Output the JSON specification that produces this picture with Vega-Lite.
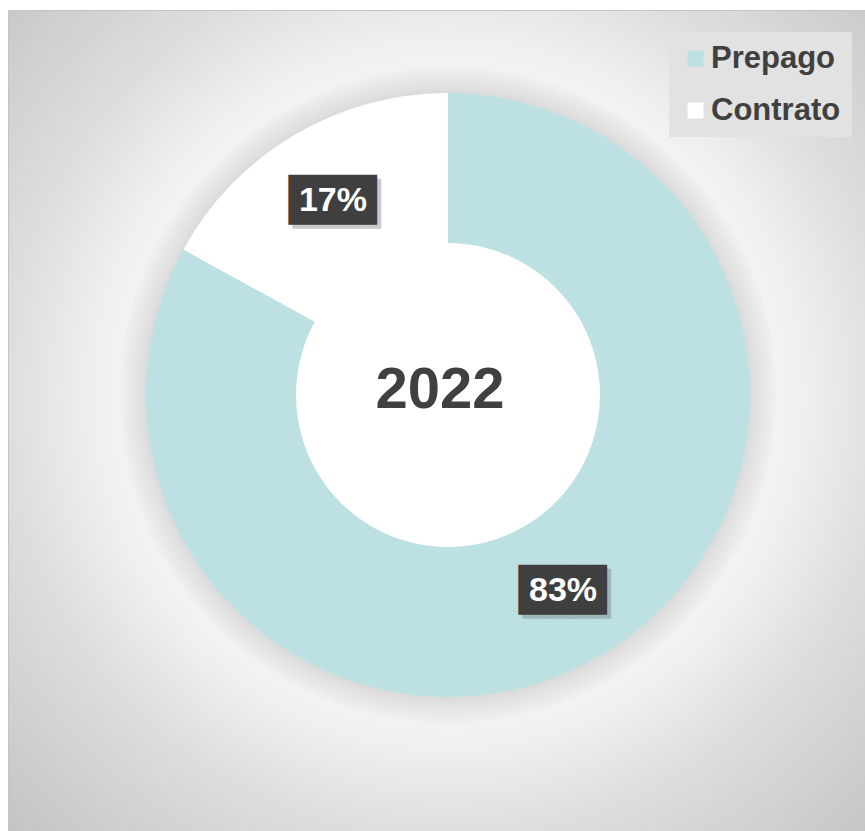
{
  "$schema": "https://vega.github.io/schema/vega-lite/v6.json",
  "width": 865,
  "height": 831,
  "autosize": {"type": "fit", "contains": "padding"},
  "padding": {"left": 8, "top": 10, "right": 0, "bottom": 0},
  "background": "#ffffff",
  "view": {
    "stroke": "#c4c4c4",
    "strokeWidth": 1,
    "fill": {
      "gradient": "radial",
      "x1": 0.513, "y1": 0.469, "r1": 0,
      "x2": 0.513, "y2": 0.469, "r2": 0.72,
      "stops": [
        {"offset": 0, "color": "#ffffff"},
        {"offset": 0.38, "color": "#ffffff"},
        {"offset": 0.48, "color": "#f6f6f6"},
        {"offset": 0.57, "color": "#f0f0f0"},
        {"offset": 0.72, "color": "#dddddd"},
        {"offset": 1, "color": "#c4c4c4"}
      ]
    }
  },
  "datasets": {
    "cuota": [
      {"categoria": "Prepago", "valor": 0.83, "orden": 1},
      {"categoria": "Contrato", "valor": 0.17, "orden": 2}
    ],
    "centro": [{"anio": "2022"}]
  },
  "data": {"name": "cuota"},
  "layer": [
    {
      "data": {"name": "centro"},
      "mark": {"type": "arc", "theta": 0, "theta2": 6.2832, "innerRadius": 298, "outerRadius": 328, "fill": "#999999", "fillOpacity": 0.045},
      "encoding": {"x": {"value": 440}, "y": {"value": 385}}
    },
    {
      "data": {"name": "centro"},
      "mark": {"type": "arc", "theta": 0, "theta2": 6.2832, "innerRadius": 298, "outerRadius": 324, "fill": "#999999", "fillOpacity": 0.045},
      "encoding": {"x": {"value": 440}, "y": {"value": 385}}
    },
    {
      "data": {"name": "centro"},
      "mark": {"type": "arc", "theta": 0, "theta2": 6.2832, "innerRadius": 298, "outerRadius": 320, "fill": "#999999", "fillOpacity": 0.045},
      "encoding": {"x": {"value": 440}, "y": {"value": 385}}
    },
    {
      "data": {"name": "centro"},
      "mark": {"type": "arc", "theta": 0, "theta2": 6.2832, "innerRadius": 298, "outerRadius": 316, "fill": "#999999", "fillOpacity": 0.045},
      "encoding": {"x": {"value": 440}, "y": {"value": 385}}
    },
    {
      "data": {"name": "centro"},
      "mark": {"type": "arc", "theta": 0, "theta2": 6.2832, "innerRadius": 298, "outerRadius": 312, "fill": "#999999", "fillOpacity": 0.045},
      "encoding": {"x": {"value": 440}, "y": {"value": 385}}
    },
    {
      "data": {"name": "centro"},
      "mark": {"type": "arc", "theta": 0, "theta2": 6.2832, "innerRadius": 298, "outerRadius": 308, "fill": "#999999", "fillOpacity": 0.045},
      "encoding": {"x": {"value": 440}, "y": {"value": 385}}
    },
    {
      "data": {"name": "centro"},
      "mark": {"type": "arc", "theta": 0, "theta2": 6.2832, "innerRadius": 298, "outerRadius": 305, "fill": "#999999", "fillOpacity": 0.045},
      "encoding": {"x": {"value": 440}, "y": {"value": 385}}
    },
    {
      "mark": {"type": "arc", "innerRadius": 152, "outerRadius": 302, "stroke": null},
      "encoding": {
        "x": {"value": 440},
        "y": {"value": 385},
        "theta": {"field": "valor", "type": "quantitative", "stack": true},
        "order": {"field": "orden", "type": "quantitative"},
        "color": {
          "field": "categoria",
          "type": "nominal",
          "scale": {"domain": ["Prepago", "Contrato"], "range": ["#bde0e3", "#ffffff"]},
          "legend": {
            "orient": "none",
            "legendX": 661,
            "legendY": 22,
            "title": null,
            "symbolType": "square",
            "symbolSize": 256,
            "symbolStrokeWidth": 0,
            "labelFont": "Liberation Sans",
            "labelFontSize": 31,
            "labelFontWeight": "bold",
            "labelColor": "#404040",
            "labelOffset": 0,
            "rowPadding": 20,
            "padding": 11,
            "fillColor": "#e2e2e2",
            "strokeColor": null
          }
        }
      }
    },
    {
      "mark": {"type": "text", "font": "DejaVu Sans Mono", "fontSize": 42, "align": "center", "baseline": "middle", "dx": 10, "dy": 5, "fill": "#6a6a6a", "opacity": 0.35},
      "encoding": {
        "x": {"value": 440},
        "y": {"value": 385},
        "theta": {"field": "valor", "type": "quantitative", "stack": true},
        "order": {"field": "orden", "type": "quantitative"},
        "radius": {"value": 226},
        "text": {"value": "███▌"}
      }
    },
    {
      "mark": {"type": "text", "font": "DejaVu Sans Mono", "fontSize": 42, "align": "center", "baseline": "middle", "dx": 6, "dy": 1, "fill": "#3f3f3f"},
      "encoding": {
        "x": {"value": 440},
        "y": {"value": 385},
        "theta": {"field": "valor", "type": "quantitative", "stack": true},
        "order": {"field": "orden", "type": "quantitative"},
        "radius": {"value": 226},
        "text": {"value": "███▌"}
      }
    },
    {
      "mark": {"type": "text", "font": "Liberation Sans", "fontSize": 34, "fontWeight": "bold", "align": "center", "baseline": "middle", "dy": 1, "fill": "#ffffff"},
      "encoding": {
        "x": {"value": 440},
        "y": {"value": 385},
        "theta": {"field": "valor", "type": "quantitative", "stack": true},
        "order": {"field": "orden", "type": "quantitative"},
        "radius": {"value": 226},
        "text": {"field": "valor", "type": "quantitative", "format": ".0%"}
      }
    },
    {
      "data": {"name": "centro"},
      "mark": {"type": "text", "font": "Liberation Sans", "fontSize": 58, "fontWeight": "bold", "align": "center", "baseline": "middle", "dx": -8, "dy": -4, "fill": "#404040"},
      "encoding": {
        "x": {"value": 440},
        "y": {"value": 385},
        "text": {"field": "anio", "type": "nominal"}
      }
    }
  ]
}
